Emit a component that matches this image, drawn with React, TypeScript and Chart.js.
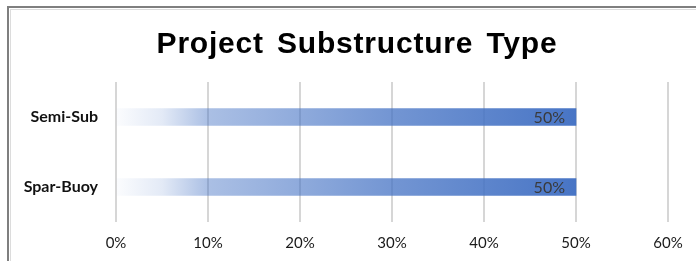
import React, { useEffect, useRef } from "react";
import { Chart, registerables } from "chart.js";

Chart.register(...registerables);

const categories = ["Semi-Sub", "Spar-Buoy"];
const values = [0.5, 0.5];
const dataLabels = ["50%", "50%"];
const tickMax = 0.6;
const tickStep = 0.1;
const titleText = "Project Substructure Type";

const framePlugin = {
  id: "frame",
  beforeDraw(chart: any) {
    const ctx = chart.ctx;
    ctx.save();
    ctx.fillStyle = "#ffffff";
    ctx.fillRect(0, 0, chart.width, chart.height);
    ctx.fillStyle = "#7f7f7f";
    ctx.fillRect(7, 6, chart.width - 7, 2);
    ctx.fillRect(7, 6, 2, chart.height - 6);
    ctx.fillStyle = "#dcdcdc";
    ctx.fillRect(10, 9, chart.width - 10, 1);
    ctx.fillRect(10, 9, 1, chart.height - 9);
    ctx.restore();
  },
  afterDraw(chart: any) {
    const ctx = chart.ctx;
    ctx.save();
    ctx.font = "bold 30px 'Liberation Sans'";
    (ctx as any).letterSpacing = "0.8px";
    (ctx as any).wordSpacing = "4px";
    ctx.fillStyle = "#000000";
    ctx.textAlign = "center";
    ctx.textBaseline = "alphabetic";
    ctx.fillText(titleText, 357, 53);
    ctx.restore();
  },
};

const labelPlugin = {
  id: "barLabels",
  afterDatasetsDraw(chart: any) {
    const ctx = chart.ctx;
    const meta = chart.getDatasetMeta(0);
    ctx.save();
    ctx.font = "16px Lato";
    ctx.fillStyle = "#3a3a3a";
    ctx.textAlign = "right";
    ctx.textBaseline = "middle";
    meta.data.forEach((bar: any, i: number) => {
      ctx.fillText(dataLabels[i], bar.x - 11, bar.y + 1);
    });
    ctx.restore();
  },
};

export default function App() {
  const ref = useRef<HTMLCanvasElement>(null);
  useEffect(() => {
    if (!ref.current) return;
    const chart = new Chart(ref.current, {
      type: "bar",
      data: {
        labels: categories,
        datasets: [
          {
            data: values,
            barThickness: 17,
            backgroundColor: (c: any) => {
              const ch = c.chart;
              const xs = ch.scales?.x;
              if (!xs || !ch.chartArea) return "rgba(68,114,196,0.9)";
              const v = values[c.dataIndex] ?? 0.5;
              const x0 = xs.getPixelForValue(0);
              const x1 = xs.getPixelForValue(v);
              const g = ch.ctx.createLinearGradient(x0, 0, x1, 0);
              g.addColorStop(0, "rgba(68,114,196,0.02)");
              g.addColorStop(0.1, "rgba(68,114,196,0.15)");
              g.addColorStop(0.2, "rgba(68,114,196,0.45)");
              g.addColorStop(0.6, "rgba(68,114,196,0.75)");
              g.addColorStop(1, "rgba(68,114,196,0.98)");
              return g;
            },
            borderWidth: 0,
          },
        ],
      },
      options: {
        indexAxis: "y",
        responsive: false,
        animation: false,
        layout: { padding: { left: 0, right: 28, top: 82, bottom: 0 } },
        plugins: {
          legend: { display: false },
          tooltip: { enabled: false },
          title: { display: false },
        },
        scales: {
          x: {
            min: 0,
            max: tickMax,
            border: { display: false },
            grid: { color: "#d6d6d6", lineWidth: 2, drawTicks: false },
            afterFit: (s: any) => {
              s.height = 39;
            },
            ticks: {
              stepSize: tickStep,
              padding: 12,
              color: "#1a1a1a",
              font: { family: "Lato", size: 15 },
              callback: (v: any) => Math.round(Number(v) * 100) + "%",
            },
          },
          y: {
            border: { display: false },
            grid: { display: false, drawTicks: false },
            afterFit: (s: any) => {
              s.width = 116;
            },
            ticks: {
              padding: 18,
              color: "#111111",
              font: { family: "Lato", size: 16, weight: "bold" },
            },
          },
        },
      },
      plugins: [framePlugin, labelPlugin],
    } as any);
    return () => chart.destroy();
  }, []);
  return (
    <div style={{ position: "absolute", left: 0, top: 0, width: 696, height: 261 }}>
      <canvas ref={ref} width={696} height={261} />
    </div>
  );
}
